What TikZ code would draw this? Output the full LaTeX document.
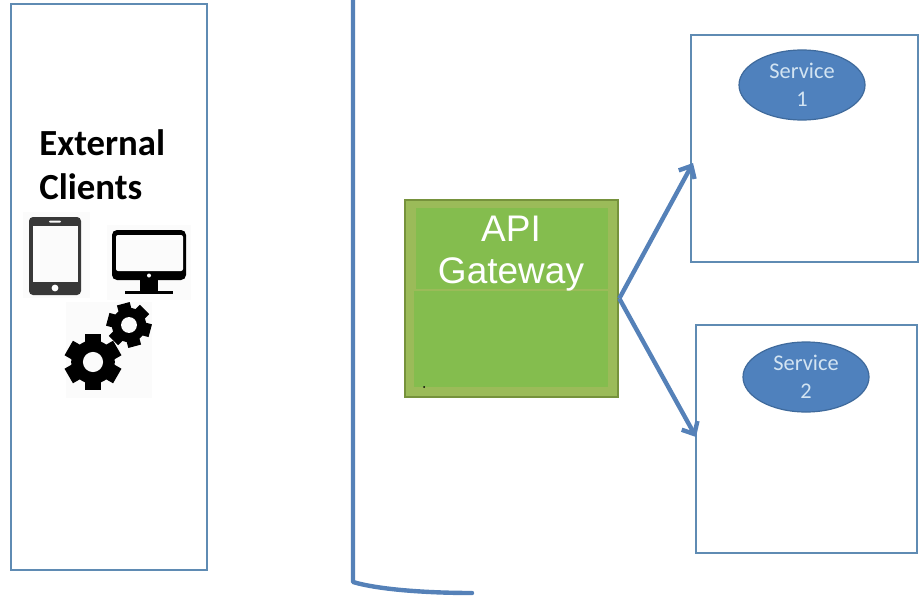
\documentclass[tikz,border=0pt]{standalone}
\usepackage{fontspec}
\setmainfont{Liberation Sans}
\newfontfamily\carlito{Carlito}
\usetikzlibrary{arrows.meta,positioning,shapes.geometric}
\definecolor{boxblue}{HTML}{5F8BB3}
\definecolor{arrowblue}{HTML}{5581B8}
\definecolor{svcblue}{HTML}{4F81BD}
\definecolor{svcline}{HTML}{3F6A9C}
\definecolor{svctext}{HTML}{D3E4F2}
\definecolor{gateedge}{HTML}{76923C}
\definecolor{gateband}{HTML}{9BBB59}
\definecolor{gatefill}{HTML}{84BD4E}
\definecolor{iconbg}{HTML}{FBFBFB}
\definecolor{tabletgrey}{HTML}{383838}
\tikzset{
        bluebox/.style={draw=boxblue,line width=1.3pt,fill=white,inner sep=0pt},
        svcoval/.style={ellipse,draw=svcline,line width=.6pt,fill=svcblue,text=svctext,
                minimum width=63pt,minimum height=35pt,inner sep=0pt,align=center,
                font=\carlito\fontsize{11.2}{14}\selectfont},
        flow/.style={draw=arrowblue,line width=2.2pt,-{Straight Barb[length=5pt,width=9pt]}},
        wall/.style={draw=arrowblue,line width=2.2pt,line cap=round,line join=round},
        iconback/.style={fill=iconbg,draw=none,inner sep=0pt}
}
\newcommand{\gearicon}[3]{
        \foreach \a in {0,60,...,300}
                \fill[rotate around={\a+#3:(#1)}] ([xshift=-#2*.15pt]#1) rectangle ++(#2*.3pt,#2*.5pt);
        \fill (#1) circle (#2*.39pt);
        \fill[iconbg] (#1) circle (#2*.18pt);
}
\begin{document}
\begin{tikzpicture}[x=.5pt,y=-.5pt]
        \useasboundingbox (0,0) rectangle (920,599);
        \node[bluebox,minimum width=98pt,minimum height=283pt] (clients) at (109,287) {};
        \node[bluebox,minimum width=113.5pt,minimum height=113.5pt] (svcbox1) at (804.5,148.5) {};
        \node[bluebox,minimum width=110.5pt,minimum height=114pt] (svcbox2) at (806.5,439) {};
        \node[rectangle,draw=gateedge,line width=1.3pt,fill=gateband,minimum width=106.5pt,minimum height=98.5pt,inner sep=0pt] (gateway) at (511.5,298.5) {};
        \fill[gatefill] (416,208) rectangle (608,289);
        \fill[gatefill] (414,290.5) rectangle (608,387);
        \fill[black] (424,387) circle (.5pt);
        \node[text=white,align=center,font=\fontsize{18.5}{21}\selectfont] (gatetext) at (511,254) {API\\Gateway};
        \node[anchor=north west,inner sep=0pt,align=left,font=\carlito\bfseries\fontsize{18.4}{22}\selectfont] (clienttext) at (39,129) {External\\Clients};
        \node[svcoval] (svc1) at (802,85) {Service\\1};
        \node[svcoval] (svc2) at (806,377) {Service\\2};
        % tablet
        \fill[iconback] (23,212) rectangle (90,298);
        \fill[tabletgrey,rounded corners=2pt] (29,217) rectangle (81,295);
        \fill[iconbg] (33,226) rectangle (78,282);
        \fill[iconbg,rounded corners=.5pt] (49,220.5) rectangle (61,222.5);
        \fill[white] (55,288) circle (1.7pt);
        % monitor
        \fill[iconback] (107,225) rectangle (191,300);
        \fill[black,rounded corners=2.5pt] (112,230) rectangle (186,280);
        \fill[iconbg,rounded corners=1pt] (116,235) rectangle (183,271);
        \fill[white] (149,275.5) circle (1pt);
        \fill[black] (140,280) rectangle (158,291);
        \fill[black] (125,291) rectangle (173,294);
        % gears
        \fill[iconback] (66,302) rectangle (152,398);
        \gearicon{93,362}{28}{0}
        \gearicon{129,325}{22}{15}
        \coordinate (in1) at (693,163);
        \coordinate (in2) at (696,437);
        \draw[flow] (gateway.east) -- (in1);
        \draw[flow] (gateway.east) -- (in2);
        \coordinate (walltop) at (353,-3);
        \coordinate (wallend) at (472,593);
        \draw[wall] (walltop) -- (353,582) .. controls (380,590) and (430,593) .. (wallend);
\end{tikzpicture}
\end{document}
